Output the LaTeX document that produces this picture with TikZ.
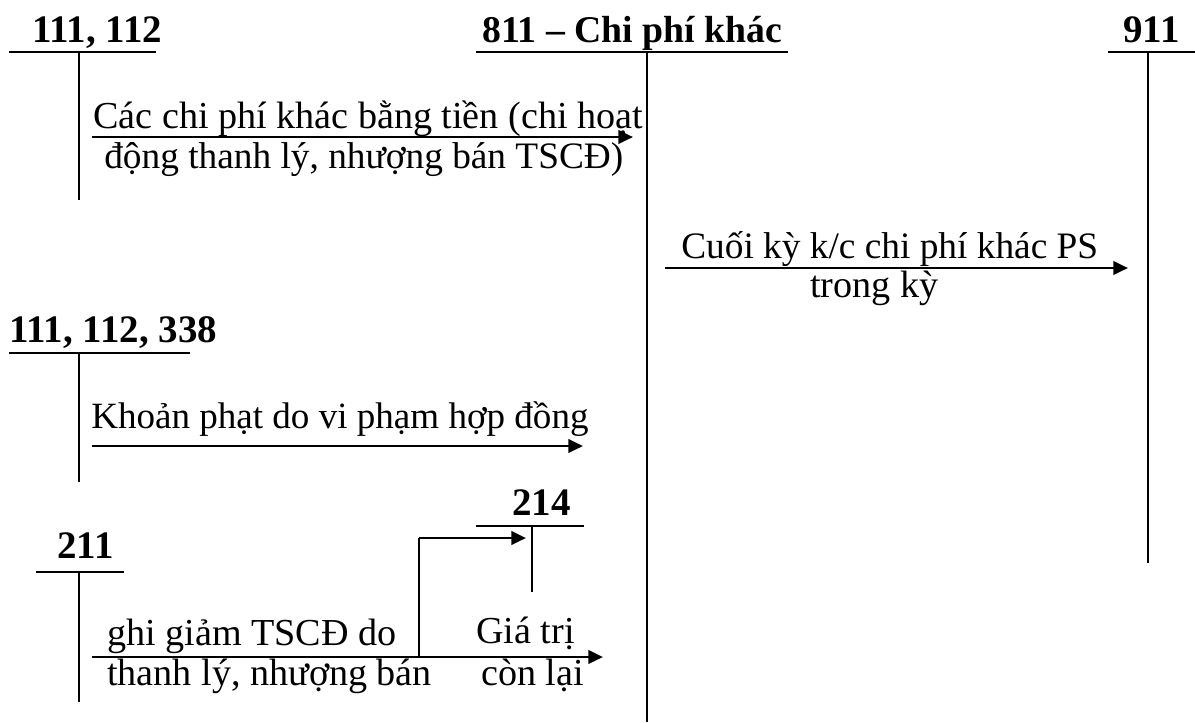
\documentclass[tikz,border=0pt]{standalone}
\usepackage{fontspec}
\setmainfont{Liberation Serif}
\usetikzlibrary{arrows.meta}
\begin{document}
\begin{tikzpicture}[x=0.75pt,y=-0.75pt,
  lbl/.style={anchor=base west,inner sep=0pt,font=\fontsize{28.6}{33}\selectfont},
  lbls/.style={lbl,font=\fontsize{28}{33}\selectfont},
  hdr/.style={anchor=base west,inner sep=0pt,font=\fontsize{29.2}{33}\selectfont\bfseries},
  tbar/.style={line width=2pt},
  tstem/.style={line width=1.5pt},
  flow/.style={line width=2.2pt,-{Triangle[length=11pt,width=10pt]}}]
\useasboundingbox (0,0) rectangle (1195,722);

% T-account 111, 112 (top left)
\node[hdr] (hA) at (32,42) {111, 112};
\coordinate (aL) at (9,52);  \coordinate (aR) at (156,52);
\coordinate (aT) at (79,52); \coordinate (aB) at (79,200);
\draw[tbar] (aL) -- (aR);
\draw[tstem] (aT) -- (aB);

% T-account 811
\node[hdr,font=\fontsize{28.3}{33}\selectfont\bfseries] (hB) at (482,42) {811 – Chi phí khác};
\coordinate (bL) at (476,52); \coordinate (bR) at (788,52);
\coordinate (bT) at (647,52); \coordinate (bB) at (647,722);
\draw[tbar] (bL) -- (bR);
\draw[tstem] (bT) -- (bB);

% T-account 911
\node[hdr] (hC) at (1123,42) {911};
\coordinate (cL) at (1108,52); \coordinate (cR) at (1195,52);
\coordinate (cT) at (1148,52); \coordinate (cB) at (1148,563);
\draw[tbar] (cL) -- (cR);
\draw[tstem] (cT) -- (cB);

% T-account 111, 112, 338
\node[hdr] (hD) at (9,342) {111, 112, 338};
\coordinate (dL) at (9,353); \coordinate (dR) at (190,353);
\coordinate (dT) at (79,353); \coordinate (dB) at (79,482);
\draw[tbar] (dL) -- (dR);
\draw[tstem] (dT) -- (dB);

% T-account 214
\node[hdr] (hE) at (512,515) {214};
\coordinate (eL) at (476,526); \coordinate (eR) at (584,526);
\coordinate (eT) at (532,526); \coordinate (eB) at (532,592);
\draw[tbar] (eL) -- (eR);
\draw[tstem] (eT) -- (eB);

% T-account 211
\node[hdr] (hF) at (57,558) {211};
\coordinate (fL) at (36,572); \coordinate (fR) at (124,572);
\coordinate (fT) at (79,572); \coordinate (fB) at (79,702);
\draw[tbar] (fL) -- (fR);
\draw[tstem] (fT) -- (fB);

% 111, 112 -> 811
\coordinate (s1) at (92,137); \coordinate (t1) at (633,137);
\draw[flow] (s1) -- (t1);
\node[lbl] (l1a) at (93,128) {Các chi phí khác bằng tiền (chi hoạt};
\node[lbls] (l1b) at (104,168) {động thanh lý, nhượng bán TSCĐ)};

% 811 -> 911
\coordinate (s2) at (665,268); \coordinate (t2) at (1128,268);
\draw[flow] (s2) -- (t2);
\node[lbls] (l2a) at (681,258) {Cuối kỳ k/c chi phí khác PS};
\node[lbl] (l2b) at (810,297) {trong kỳ};

% 111, 112, 338 -> 811
\coordinate (s3) at (92,446); \coordinate (t3) at (583,446);
\draw[flow] (s3) -- (t3);
\node[lbl,font=\fontsize{27.8}{33}\selectfont] (l3) at (91,428) {Khoản phạt do vi phạm hợp đồng};

% 211 -> 811, with branch to 214
\coordinate (s4) at (92,657); \coordinate (t4) at (603,657);
\draw[flow] (s4) -- (t4);
\coordinate (k0) at (419,657); \coordinate (k1) at (419,538); \coordinate (k2) at (526,538);
\draw[line width=2pt] (k0) -- (k1);
\draw[flow] (k1) -- (k2);
\node[lbl] (l4a) at (107,645) {ghi giảm TSCĐ do};
\node[lbl] (l4b) at (107,685) {thanh lý, nhượng bán};
\node[lbl] (l4c) at (476,643) {Giá trị};
\node[lbl] (l4d) at (481,685) {còn lại};
\end{tikzpicture}
\end{document}
